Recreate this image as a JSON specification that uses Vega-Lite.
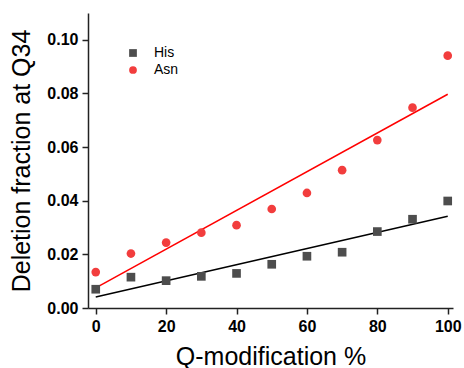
{
  "$schema": "https://vega.github.io/schema/vega-lite/v6.json",
  "width": 365,
  "height": 295,
  "autosize": "none",
  "padding": {"left": 88, "top": 13, "right": 11, "bottom": 60},
  "background": "white",
  "config": {
    "view": {"stroke": null},
    "font": "Liberation Sans",
    "axis": {
      "grid": false,
      "domainColor": "#222222",
      "domainWidth": 1.5,
      "tickColor": "#222222",
      "tickWidth": 1.5,
      "labelFont": "Liberation Sans",
      "labelFontSize": 16,
      "labelFontWeight": "bold",
      "labelColor": "#000000",
      "titleFont": "Liberation Sans",
      "titleFontSize": 25,
      "titleFontWeight": "normal",
      "titleColor": "#000000",
      "labelPadding": 4
    }
  },
  "datasets": {
    "points": [
      {"x": 0, "y": 0.0070, "series": "His"},
      {"x": 10, "y": 0.0115, "series": "His"},
      {"x": 20, "y": 0.0102, "series": "His"},
      {"x": 30, "y": 0.0118, "series": "His"},
      {"x": 40, "y": 0.0129, "series": "His"},
      {"x": 50, "y": 0.0163, "series": "His"},
      {"x": 60, "y": 0.0193, "series": "His"},
      {"x": 70, "y": 0.0208, "series": "His"},
      {"x": 80, "y": 0.0285, "series": "His"},
      {"x": 90, "y": 0.0331, "series": "His"},
      {"x": 100, "y": 0.0399, "series": "His"},
      {"x": 0, "y": 0.0134, "series": "Asn"},
      {"x": 10, "y": 0.0203, "series": "Asn"},
      {"x": 20, "y": 0.0244, "series": "Asn"},
      {"x": 30, "y": 0.0281, "series": "Asn"},
      {"x": 40, "y": 0.0309, "series": "Asn"},
      {"x": 50, "y": 0.0369, "series": "Asn"},
      {"x": 60, "y": 0.0429, "series": "Asn"},
      {"x": 70, "y": 0.0514, "series": "Asn"},
      {"x": 80, "y": 0.0626, "series": "Asn"},
      {"x": 90, "y": 0.0747, "series": "Asn"},
      {"x": 100, "y": 0.0941, "series": "Asn"}
    ],
    "fits": [
      {"x": 0, "y": 0.0041, "fit": "His fit"},
      {"x": 100, "y": 0.0342, "fit": "His fit"},
      {"x": 0, "y": 0.0075, "fit": "Asn fit"},
      {"x": 100, "y": 0.0797, "fit": "Asn fit"}
    ]
  },
  "layer": [
    {
      "data": {"name": "fits"},
      "mark": {"type": "line", "strokeWidth": 1.5},
      "encoding": {
        "x": {
          "field": "x", "type": "quantitative",
          "scale": {"domain": [-2.2, 101.5], "nice": false, "zero": false},
          "axis": {
            "title": "Q-modification %",
            "values": [0, 10, 20, 30, 40, 50, 60, 70, 80, 90, 100],
            "labelExpr": "datum.value % 20 === 0 ? datum.label : ''",
            "tickSize": {"condition": {"test": "datum.value % 20 !== 0", "value": 3}, "value": 6},
            "titlePadding": 10
          }
        },
        "y": {
          "field": "y", "type": "quantitative",
          "scale": {"domain": [0, 0.11], "nice": false},
          "axis": {
            "title": "Deletion fraction at Q34",
            "values": [0, 0.01, 0.02, 0.03, 0.04, 0.05, 0.06, 0.07, 0.08, 0.09, 0.10, 0.11],
            "labelExpr": "round(datum.value * 100) % 2 === 0 ? format(datum.value, '.2f') : ''",
            "tickSize": {"condition": {"test": "round(datum.value * 100) % 2 !== 0", "value": 3}, "value": 6},
            "titlePadding": 12
          }
        },
        "stroke": {
          "field": "fit", "type": "nominal",
          "scale": {"domain": ["His fit", "Asn fit"], "range": ["#000000", "#ff0000"]},
          "legend": null
        }
      }
    },
    {
      "data": {"name": "points"},
      "mark": {"type": "point", "filled": true, "opacity": 1, "size": 75},
      "encoding": {
        "x": {"field": "x", "type": "quantitative"},
        "y": {"field": "y", "type": "quantitative"},
        "color": {
          "field": "series", "type": "nominal",
          "scale": {"domain": ["His", "Asn"], "range": ["#4d4d4d", "#f23d3d"]},
          "legend": {
            "title": null,
            "orient": "none",
            "legendX": 38,
            "legendY": 33,
            "padding": 0,
            "symbolSize": 60,
            "labelFontSize": 14,
            "labelFont": "Liberation Sans",
            "labelColor": "#000000",
            "labelOffset": 14,
            "rowPadding": 3
          }
        },
        "shape": {
          "field": "series", "type": "nominal",
          "scale": {"domain": ["His", "Asn"], "range": ["square", "circle"]}
        }
      }
    }
  ]
}
